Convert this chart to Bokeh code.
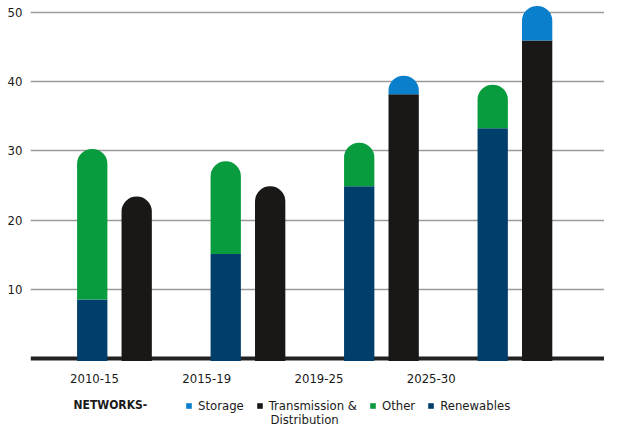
import numpy as np
from bokeh.plotting import figure
from bokeh.models import Range1d, FixedTicker, Legend, LegendItem, Label
from bokeh.embed import file_html
from bokeh.resources import INLINE

# ---- data ----
periods = ["2010-15", "2015-19", "2019-25", "2025-30"]
renewables = [8.5, 15.1, 24.9, 33.3]
other = [21.8, 13.4, 6.3, 6.3]
transmission = [23.4, 24.9, 38.2, 46.0]
storage = [0.0, 0.0, 2.7, 5.0]
y_ticks = [10, 20, 30, 40, 50]
legend_title = "NETWORKS-"
legend_labels = ["Storage", "Transmission &", "Other", "Renewables"]
legend_second_line = "Distribution"

# ---- style ----
C_REN = "#003e6b"
C_OTH = "#089c3e"
C_TD = "#1a1816"
C_STO = "#0a7fcc"
C_TXT = "#1a1a1a"
FONT = "DejaVu Sans Condensed, DejaVu Sans, sans-serif"
FS = "13px"

idx = np.arange(len(periods))
off = 0.1665
bw = 0.227
xl = idx - off
xr = idx + off
ren = np.array(renewables)
oth = np.array(other)
td = np.array(transmission)
sto = np.array(storage)
has = sto > 0
base = -0.4
rad = (15, 15, 0, 0)

p = figure(width=604, height=428, output_backend="svg", toolbar_location=None,
           x_range=Range1d(-0.629, 3.671), y_range=Range1d(-10.16, 51.78),
           min_border_left=30, min_border_right=0, min_border_top=0, min_border_bottom=0)
p.outline_line_color = None
p.background_fill_color = "white"
p.border_fill_color = "white"

r_ren = p.vbar(x=xl, bottom=base, top=ren, width=bw, fill_color=C_REN, line_color=None)
r_oth = p.vbar(x=xl, bottom=ren, top=ren + oth, width=bw, fill_color=C_OTH, line_color=None,
               border_radius=rad)
r_td_round = p.vbar(x=xr[~has], bottom=base, top=td[~has], width=bw, fill_color=C_TD,
                    line_color=None, border_radius=rad)
r_td_flat = p.vbar(x=xr[has], bottom=base, top=td[has], width=bw, fill_color=C_TD, line_color=None)
r_sto = p.vbar(x=xr[has], bottom=td[has], top=td[has] + sto[has], width=bw, fill_color=C_STO,
               line_color=None, border_radius=rad)

# y axis
p.yaxis.ticker = FixedTicker(ticks=y_ticks)
p.yaxis.axis_line_color = None
p.yaxis.major_tick_line_color = None
p.yaxis.minor_tick_line_color = None
p.yaxis.major_label_standoff = 2
p.yaxis.major_label_text_font = FONT
p.yaxis.major_label_text_font_size = FS
p.yaxis.major_label_text_color = C_TXT

p.ygrid.ticker = FixedTicker(ticks=y_ticks)
p.ygrid.grid_line_color = "#9a9a9a"
p.ygrid.grid_line_width = 1.5
p.xgrid.grid_line_color = None

# x axis (baseline at 0)
label_pos = [round(-0.15 + 0.841 * i, 4) for i in range(len(periods))]
p.xaxis.fixed_location = 0
p.xaxis.level = "underlay"
p.xaxis.ticker = FixedTicker(ticks=label_pos)
p.xaxis.major_label_overrides = {lp: name for lp, name in zip(label_pos, periods)}
p.xaxis.axis_line_color = "#222222"
p.xaxis.axis_line_width = 4
p.xaxis.major_tick_line_color = None
p.xaxis.minor_tick_line_color = None
p.xaxis.major_label_standoff = 10
p.xaxis.major_label_text_font = FONT
p.xaxis.major_label_text_font_size = FS
p.xaxis.major_label_text_color = C_TXT

# legend
legend = Legend(items=[LegendItem(label=legend_labels[0], renderers=[r_sto]),
                       LegendItem(label=legend_labels[1], renderers=[r_td_flat]),
                       LegendItem(label=legend_labels[2], renderers=[r_oth]),
                       LegendItem(label=legend_labels[3], renderers=[r_ren])],
                orientation="horizontal", location=(155, 15),
                glyph_width=7, glyph_height=7, label_standoff=6, spacing=12,
                padding=0, margin=0, border_line_alpha=0, background_fill_alpha=0,
                label_text_font=FONT, label_text_font_size=FS, label_text_color=C_TXT,
                label_height=14)
p.add_layout(legend)

p.add_layout(Label(x=43, y=24, x_units="screen", y_units="screen", text=legend_title,
                   text_font=FONT, text_font_size="12px", text_font_style="bold",
                   text_color=C_TXT, text_baseline="middle"))
p.add_layout(Label(x=240, y=9, x_units="screen", y_units="screen", text=legend_second_line,
                   text_font=FONT, text_font_size=FS, text_color=C_TXT,
                   text_baseline="middle"))

open("out.html", "w").write(file_html(p, INLINE))
